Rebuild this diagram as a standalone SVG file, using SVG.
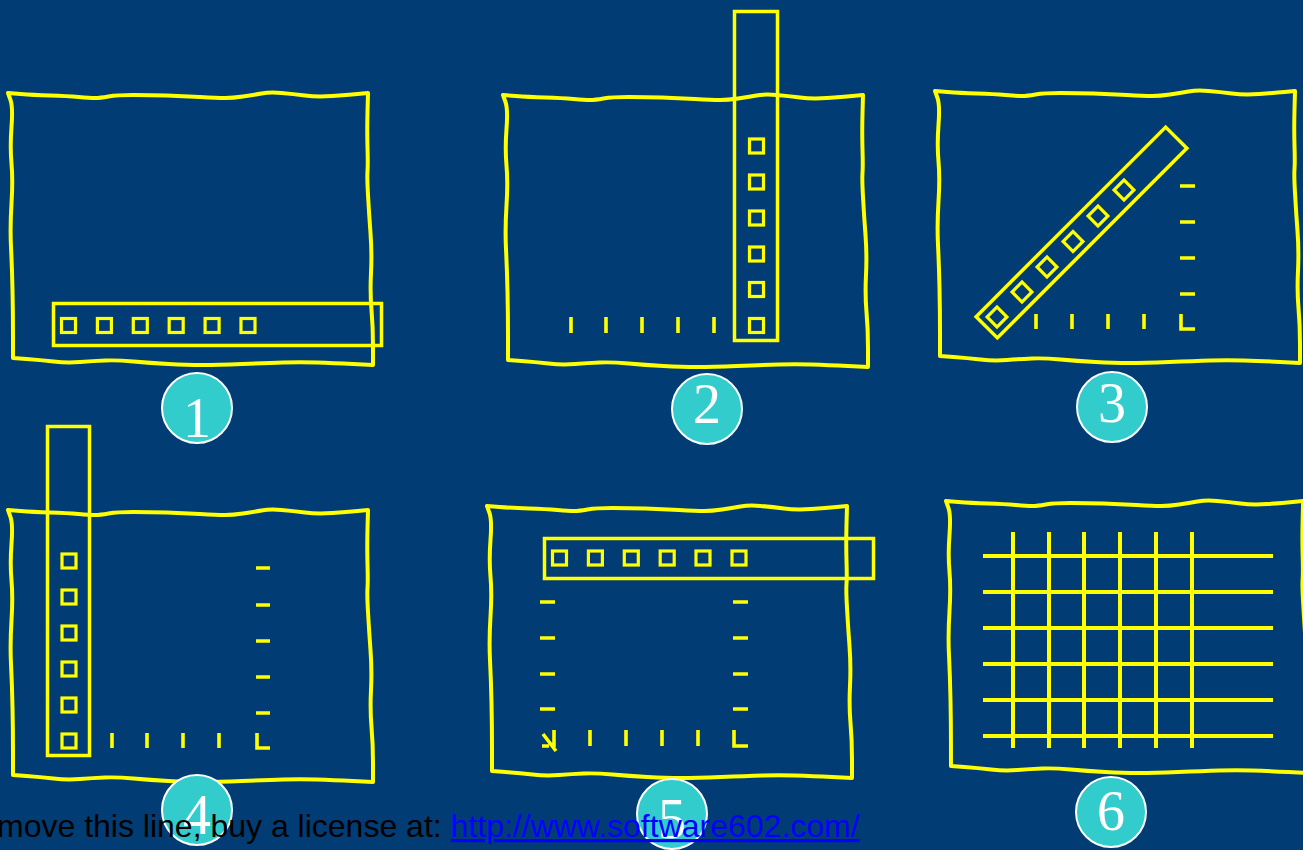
<svg xmlns="http://www.w3.org/2000/svg" xmlns:xlink="http://www.w3.org/1999/xlink" width="1303" height="850" viewBox="0 0 1303 850">
<style>
.edge{fill:none;stroke:#FFFF00;stroke-width:4;stroke-linejoin:round;stroke-linecap:round}
.strip{fill:none;stroke:#FFFF00;stroke-width:3.5}
.sq{fill:none;stroke:#FFFF00;stroke-width:3.2}
.tick{fill:none;stroke:#FFFF00;stroke-width:3.6}
.grid{stroke:#FFFF00;stroke-width:4}
.badge{fill:#33CCCC;stroke:#FFFFFF;stroke-width:2}
.num{font-family:"Liberation Serif","Times New Roman",serif;font-size:56px;fill:#FFFFFF;text-anchor:middle}
.cap{font-family:"Liberation Sans",Arial,sans-serif;font-size:32px;fill:#000000}
</style>
<defs>
<path id="wavy" class="edge" d="M0,0 L12.5,1 Q25,2 42,2.5 Q59,3 70.5,4 Q82,5 87,5 Q92,5 100.5,3.5 Q109,2 125.5,2 Q142,2 158.5,2.5 Q175,3 192,4 Q209,5 217,5 Q225,5 235,3.5 Q245,2 253.5,0.5 Q262,-1 273.5,0 Q285,1 297,2.5 Q309,4 324,3 Q339,2 349.5,1 L360,0 L359.5,18.5 Q359,37 359.5,54.5 Q360,72 359.5,78 Q359,84 360,102 Q361,120 362.5,140 Q364,160 363,180 Q362,200 363.5,217 Q365,234 365,253 L365,272 L345,271 Q325,270 308.5,269.5 Q292,269 275.5,269.5 Q259,270 234,271 Q209,272 194,272 Q179,272 160.5,271 Q142,270 125.5,268.5 Q109,267 97,267.5 Q85,268 72,269 Q59,270 45.5,268.5 Q32,267 18.5,266 L5,265 L5,242.5 Q5,220 4.5,197 Q4,174 3,154 Q2,134 3.5,110.5 Q5,87 3.5,70.5 Q2,54 3.5,34 Q5,14 2.5,7 Z"/>
<rect id="sq" class="sq" x="-7" y="-7" width="14" height="14"/>
</defs>
<rect x="0" y="0" width="1303" height="850" fill="#013C74"/>

<g id="panel1">
<use xlink:href="#wavy" transform="translate(8,93)"/>
<rect class="strip" x="53.5" y="303.5" width="328" height="42"/>
<use xlink:href="#sq" x="68.5" y="325.5"/>
<use xlink:href="#sq" x="104.4" y="325.5"/>
<use xlink:href="#sq" x="140.3" y="325.5"/>
<use xlink:href="#sq" x="176.2" y="325.5"/>
<use xlink:href="#sq" x="212.1" y="325.5"/>
<use xlink:href="#sq" x="248" y="325.5"/>
</g>

<g id="panel2">
<use xlink:href="#wavy" transform="translate(503,95)"/>
<rect class="strip" x="734.5" y="11.5" width="43" height="329"/>
<use xlink:href="#sq" x="756.5" y="146"/>
<use xlink:href="#sq" x="756.5" y="182"/>
<use xlink:href="#sq" x="756.5" y="218"/>
<use xlink:href="#sq" x="756.5" y="254"/>
<use xlink:href="#sq" x="756.5" y="289.5"/>
<use xlink:href="#sq" x="756.5" y="325.5"/>
<path class="tick" d="M571,317V333M606,317V333M642,317V333M678,317V333M714,317V333"/>
</g>

<g id="panel3">
<use xlink:href="#wavy" transform="translate(935,91)"/>
<rect class="strip" x="-134" y="-15" width="268" height="30" transform="translate(1081.5,232.5) rotate(-45)"/>
<use xlink:href="#sq" transform="translate(997,317) rotate(45)"/>
<use xlink:href="#sq" transform="translate(1022,292) rotate(45)"/>
<use xlink:href="#sq" transform="translate(1047,267) rotate(45)"/>
<use xlink:href="#sq" transform="translate(1073,241.5) rotate(45)"/>
<use xlink:href="#sq" transform="translate(1098,216) rotate(45)"/>
<use xlink:href="#sq" transform="translate(1124,190) rotate(45)"/>
<path class="tick" d="M1180,186H1195M1180,222H1195M1180,258H1195M1180,294H1195M1036,314V329M1072,314V329M1108,314V329M1144,314V329M1181,314V329H1195"/>
</g>

<g id="panel4">
<use xlink:href="#wavy" transform="translate(8,510)"/>
<rect class="strip" x="47.5" y="426.5" width="42" height="329"/>
<use xlink:href="#sq" x="69" y="561"/>
<use xlink:href="#sq" x="69" y="597"/>
<use xlink:href="#sq" x="69" y="633"/>
<use xlink:href="#sq" x="69" y="669"/>
<use xlink:href="#sq" x="69" y="705"/>
<use xlink:href="#sq" x="69" y="741"/>
<path class="tick" d="M256,568H270M256,605H270M256,641H270M256,677H270M256,713H270M112,733V748M147,733V748M183,733V748M219,733V748M257,733V748H270"/>
</g>

<g id="panel5">
<use xlink:href="#wavy" transform="translate(487,506)"/>
<rect class="strip" x="544.5" y="538.5" width="329" height="40"/>
<use xlink:href="#sq" x="559.5" y="558"/>
<use xlink:href="#sq" x="595.4" y="558"/>
<use xlink:href="#sq" x="631.3" y="558"/>
<use xlink:href="#sq" x="667.2" y="558"/>
<use xlink:href="#sq" x="703" y="558"/>
<use xlink:href="#sq" x="739" y="558"/>
<path class="tick" d="M540,602H555M540,638H555M540,674H555M540,709H555M733,602H748M733,638H748M733,674H748M733,709H748M590,730V746M626,730V746M662,730V746M698,730V746M734,730V746H748"/>
<path class="tick" d="M542,746H549M554,730V747M543,734L556,751"/>
</g>

<g id="panel6">
<use xlink:href="#wavy" transform="translate(946,501) scale(0.992,1)"/>
<path class="grid" d="M983,556H1273M983,592H1273M983,628H1273M983,664H1273M983,700H1273M983,736H1273M1013,532V748M1049,532V748M1084,532V748M1120,532V748M1156,532V748M1192,532V748"/>
</g>

<g id="badges">
<circle class="badge" cx="197" cy="408" r="35"/>
<text class="num" x="197" y="437">1</text>
<circle class="badge" cx="707" cy="409" r="35"/>
<text class="num" x="707" y="423">2</text>
<circle class="badge" cx="1112" cy="407" r="35"/>
<text class="num" x="1112" y="422">3</text>
<circle class="badge" cx="197" cy="810" r="35"/>
<text class="num" x="197" y="834">4</text>
<circle class="badge" cx="672" cy="814" r="35"/>
<text class="num" x="672" y="838">5</text>
<circle class="badge" cx="1111" cy="812" r="35"/>
<text class="num" x="1111" y="830">6</text>
</g>

<g id="caption">
<text class="cap" x="-3" y="837">move this line, buy a license at: <tspan fill="#0000FF" text-decoration="underline">http://www.software602.com/</tspan></text>
</g>
</svg>
